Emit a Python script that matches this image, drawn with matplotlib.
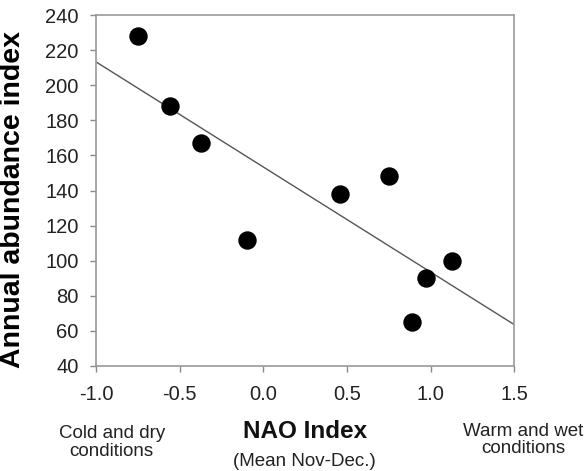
import numpy as np
import matplotlib
matplotlib.use('Agg')
import matplotlib.pyplot as plt

plt.rcParams['font.family'] = ['Liberation Sans', 'DejaVu Sans']

# NAO index (mean Nov-Dec) vs annual abundance index
nao = [-0.75, -0.56, -0.37, -0.10, 0.46, 0.75, 0.97, 1.13, 0.89]
abundance = [228, 188, 167, 112, 138, 148, 90, 100, 65]

x_ticks = [-1.0, -0.5, 0.0, 0.5, 1.0, 1.5]
y_ticks = [40, 60, 80, 100, 120, 140, 160, 180, 200, 220, 240]

fig = plt.figure(figsize=(5.85, 4.71), dpi=100)
ax = fig.add_axes([0.164, 0.223, 0.715, 0.745])

# least-squares fit line across the full x range
slope, icpt = np.polyfit(nao, abundance, 1)
xl = np.array([-1.0, 1.5])
ax.plot(xl, slope * xl + icpt, color='#555555', lw=1.0, zorder=2)

ax.scatter(nao, abundance, s=150, color='black', zorder=3)

ax.set_xlim(-1.0, 1.5)
ax.set_ylim(40, 240)
ax.set_xticks(x_ticks)
ax.set_xticklabels([f'{v:.1f}' for v in x_ticks])
ax.set_yticks(y_ticks)
ax.tick_params(direction='out', length=4.5, width=1, color='#888888',
               labelsize=14.5, labelcolor='#222222')
ax.tick_params(axis='y', pad=8)
ax.tick_params(axis='x', pad=9)
for s in ax.spines.values():
    s.set_color('#999999')
    s.set_linewidth(1.2)

ax.set_ylabel('Annual abundance index', fontsize=20.5, fontweight='bold')
ax.yaxis.set_label_coords(-0.168, 0.473)

fig.text(0.521, 0.083, 'NAO Index', ha='center', va='center',
         fontsize=17.5, fontweight='bold', color='#111111')
fig.text(0.521, 0.021, '(Mean Nov-Dec.)', ha='center', va='center',
         fontsize=13.5, color='#222222')
fig.text(0.191, 0.06, 'Cold and dry\nconditions', ha='center', va='center',
         fontsize=13.5, linespacing=1.05, color='#222222')
fig.text(0.894, 0.066, 'Warm and wet\nconditions', ha='center', va='center',
         fontsize=13.5, linespacing=1.05, color='#222222')

fig.savefig('out.png', dpi=100)
